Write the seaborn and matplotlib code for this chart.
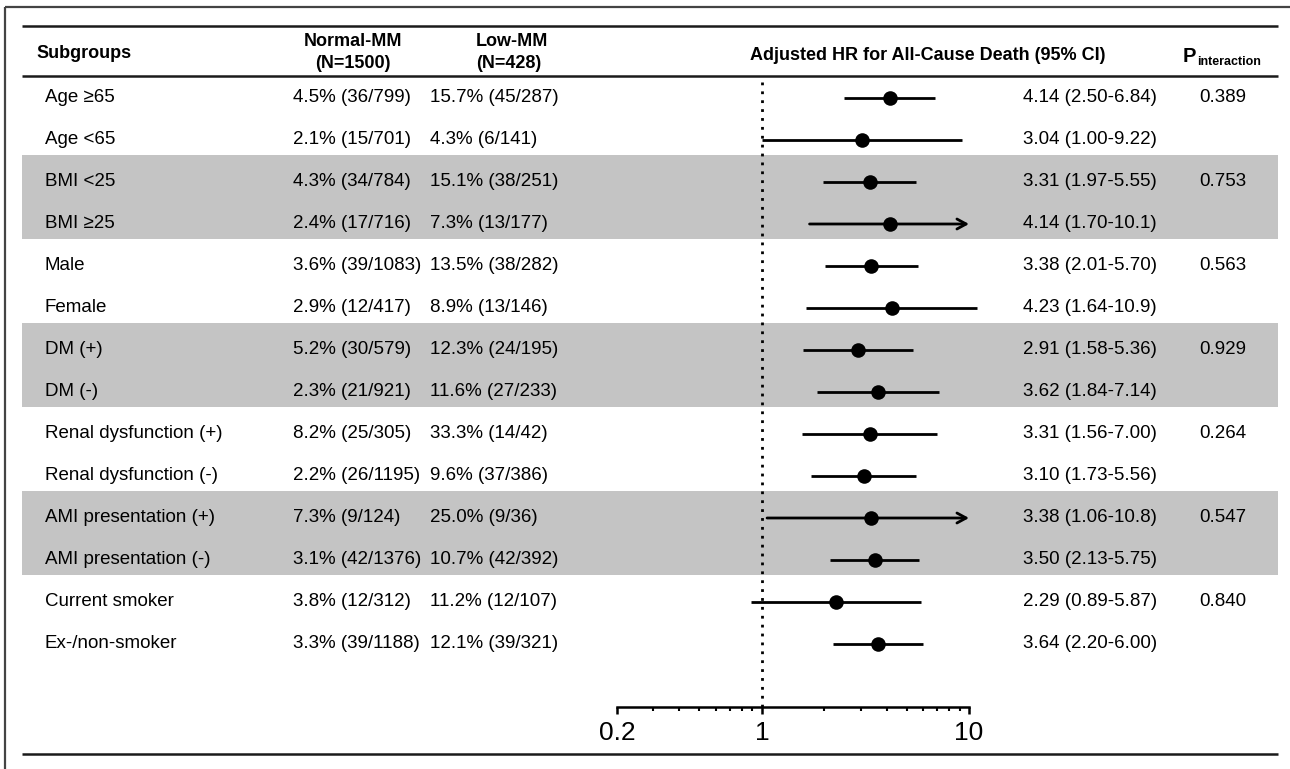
import matplotlib
matplotlib.use("Agg")
import matplotlib.pyplot as plt
import seaborn as sns
from matplotlib.ticker import FixedLocator, NullFormatter

# ─── Data ────────────────────────────────────────────────────────────────────
subgroups = [
    "Age ≥65", "Age <65", "BMI <25", "BMI ≥25", "Male", "Female",
    "DM (+)", "DM (-)", "Renal dysfunction (+)", "Renal dysfunction (-)",
    "AMI presentation (+)", "AMI presentation (-)",
    "Current smoker", "Ex-/non-smoker",
]
normal_mm = [
    "4.5% (36/799)", "2.1% (15/701)", "4.3% (34/784)", "2.4% (17/716)",
    "3.6% (39/1083)", "2.9% (12/417)", "5.2% (30/579)", "2.3% (21/921)",
    "8.2% (25/305)", "2.2% (26/1195)", "7.3% (9/124)", "3.1% (42/1376)",
    "3.8% (12/312)", "3.3% (39/1188)",
]
low_mm = [
    "15.7% (45/287)", "4.3% (6/141)", "15.1% (38/251)", "7.3% (13/177)",
    "13.5% (38/282)", "8.9% (13/146)", "12.3% (24/195)", "11.6% (27/233)",
    "33.3% (14/42)", "9.6% (37/386)", "25.0% (9/36)", "10.7% (42/392)",
    "11.2% (12/107)", "12.1% (39/321)",
]
hr = [4.14, 3.04, 3.31, 4.14, 3.38, 4.23, 2.91, 3.62, 3.31, 3.10, 3.38, 3.50, 2.29, 3.64]
ci_low = [2.50, 1.00, 1.97, 1.70, 2.01, 1.64, 1.58, 1.84, 1.56, 1.73, 1.06, 2.13, 0.89, 2.20]
ci_high = [6.84, 9.22, 5.55, 10.1, 5.70, 10.9, 5.36, 7.14, 7.00, 5.56, 10.8, 5.75, 5.87, 6.00]
hr_text = [
    "4.14 (2.50-6.84)", "3.04 (1.00-9.22)", "3.31 (1.97-5.55)", "4.14 (1.70-10.1)",
    "3.38 (2.01-5.70)", "4.23 (1.64-10.9)", "2.91 (1.58-5.36)", "3.62 (1.84-7.14)",
    "3.31 (1.56-7.00)", "3.10 (1.73-5.56)", "3.38 (1.06-10.8)", "3.50 (2.13-5.75)",
    "2.29 (0.89-5.87)", "3.64 (2.20-6.00)",
]
# rows whose CI is drawn as an arrow running off the axis
arrow_rows = [3, 10]
p_interaction = ["0.389", "0.753", "0.563", "0.929", "0.264", "0.547", "0.840"]
shaded_groups = [1, 3, 5]
axis_ticks = [0.2, 1, 10]
axis_labels = ["0.2", "1", "10"]

# ─── Layout (pixels) ─────────────────────────────────────────────────────────
W, H = 1290, 769
Y0, PITCH = 98, 42          # centre of first row, row spacing
AX_L, AX_R = 617, 969       # x-axis 0.2 .. 10
AX_TOP, AX_BOT = 76, 707
FS = 13.5
FS_HEAD = 13

sns.set_theme(style="white")
plt.rcParams["font.family"] = ["Liberation Sans", "DejaVu Sans"]
plt.rcParams["text.color"] = "black"

fig = plt.figure(figsize=(W / 100, H / 100), dpi=100)
bg = fig.add_axes([0, 0, 1, 1])
bg.set_xlim(0, W)
bg.set_ylim(H, 0)
bg.axis("off")


def row_y(i):
    return Y0 + PITCH * i


# outer frame (top + left edge only are visible)
bg.plot([5, W], [7, 7], color="#444444", lw=1.6, solid_capstyle="butt")
bg.plot([5, 5], [7, H], color="#444444", lw=1.6, solid_capstyle="butt")

# shaded bands
for g in shaded_groups:
    top = row_y(2 * g) - 27
    bot = row_y(2 * g + 1) + 15
    bg.axhspan(top, bot, xmin=22 / W, xmax=1278 / W, color="#c4c4c4", lw=0, zorder=0)

# rules
for yy in (26, 76, 754):
    bg.plot([22, 1278], [yy, yy], color="#1a1a1a", lw=1.8, solid_capstyle="butt")

# header
bold = dict(fontsize=FS_HEAD, fontweight="bold", color="black", va="center")
bg.text(36, 54, "Subgroups", ha="left", **bold)
bg.text(353, 42, "Normal-MM", ha="center", **bold)
bg.text(353, 63, "(N=1500)", ha="center", **bold)
bg.text(476, 42, "Low-MM", ha="left", **bold)
bg.text(476, 63, "(N=428)", ha="left", **bold)
bg.text(928, 55, "Adjusted HR for All-Cause Death (95% CI)", ha="center", **bold)
bg.text(1183, 56, "P", ha="left", fontsize=FS_HEAD + 1.5, fontweight="bold", va="center")
bg.text(1197, 62, "interaction", ha="left", fontsize=9, fontweight="bold", va="center")

# table columns
for i in range(len(subgroups)):
    y = row_y(i)
    bg.text(45, y, subgroups[i], ha="left", va="center", fontsize=FS)
    bg.text(293, y, normal_mm[i], ha="left", va="center", fontsize=FS)
    bg.text(430, y, low_mm[i], ha="left", va="center", fontsize=FS)
    bg.text(1023, y, hr_text[i], ha="left", va="center", fontsize=FS)
for g, p in enumerate(p_interaction):
    bg.text(1223, row_y(2 * g), p, ha="center", va="center", fontsize=FS)

# ─── Forest plot ─────────────────────────────────────────────────────────────
ax = fig.add_axes([AX_L / W, 1 - AX_BOT / H, (AX_R - AX_L) / W, (AX_BOT - AX_TOP) / H])
ax.patch.set_alpha(0)
rows = list(range(len(hr)))
ax.set_xscale("log")
ax.set_xlim(0.2, 10)
ax.set_ylim((AX_BOT - Y0) / PITCH, (AX_TOP - Y0) / PITCH)

ax.axvline(1, color="black", lw=2, ls=(0, (1, 2.2)), zorder=1)

for i in rows:
    if i in arrow_rows:
        ax.annotate("", xy=(10, i), xytext=(ci_low[i], i),
                    arrowprops=dict(arrowstyle="->,head_length=0.55,head_width=0.3",
                                    lw=2, color="black", shrinkA=0, shrinkB=0),
                    annotation_clip=False)
    else:
        ax.plot([ci_low[i], ci_high[i]], [i, i], color="black", lw=2,
                solid_capstyle="butt", clip_on=False, zorder=2)

sns.scatterplot(x=hr, y=rows, ax=ax, color="black", s=110, linewidth=0,
                zorder=3, clip_on=False, legend=False)

for side in ("top", "right", "left"):
    ax.spines[side].set_visible(False)
ax.spines["bottom"].set_color("black")
ax.spines["bottom"].set_linewidth(1.8)
ax.set_yticks([])
ax.xaxis.set_major_locator(FixedLocator(axis_ticks))
ax.set_xticklabels(axis_labels)
ax.xaxis.set_minor_locator(FixedLocator([0.3, 0.4, 0.5, 0.6, 0.7, 0.8, 0.9,
                                         2, 3, 4, 5, 6, 7, 8, 9]))
ax.xaxis.set_minor_formatter(NullFormatter())
ax.tick_params(axis="x", which="major", bottom=True, length=5, width=1.8,
               labelsize=19, pad=5, color="black", labelcolor="black")
ax.tick_params(axis="x", which="minor", bottom=True, length=3, width=1.5, color="black")
ax.set_xlabel("")
ax.set_ylabel("")

fig.savefig("out.png", dpi=100)
